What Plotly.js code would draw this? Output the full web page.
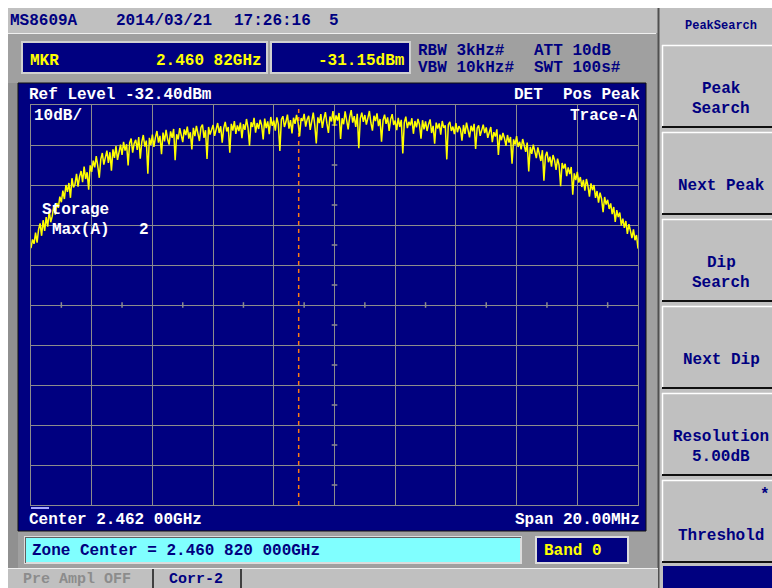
<!DOCTYPE html>
<html>
<head>
<meta charset="utf-8">
<script src="https://cdn.plot.ly/plotly-3.0.1.min.js"></script>
<style>html,body{margin:0;padding:0;background:#fff;}#chart{width:772px;height:588px;}</style>
</head>
<body>
<div id="chart"></div>
<script>
// ---- Instrument settings ----
const startFreqMHz = 2452.0;      // Center 2.462 00GHz, Span 20.00MHz
const stopFreqMHz = 2472.0;
const stepMHz = 0.05;             // sweep point spacing
const refLevel = -32.40;          // dBm, top of screen
const dbPerDiv = 10;
const markerFreqMHz = 2460.82;    // MKR 2.460 82GHz
const markerLevel = -31.15;       // dBm

// ---- Trace A (Max hold), dBm ----
const traceA = [
 -68.2,-66.0,-67.1,-64.3,-66.8,-63.5,-62.0,-65.1,-61.2,-63.9,
 -60.4,-62.8,-58.9,-61.7,-60.2,-57.6,-59.8,-56.9,-58.1,-55.3,
 -56.7,-53.8,-55.9,-52.4,-54.1,-51.9,-55.6,-50.7,-53.0,-52.2,
 -49.6,-52.8,-50.3,-48.9,-51.7,-47.8,-50.9,-49.2,-53.6,-47.5,
 -49.1,-46.3,-48.0,-45.2,-47.7,-50.6,-45.9,-44.4,-47.3,-45.0,
 -43.8,-46.9,-44.2,-48.8,-43.5,-45.6,-42.7,-46.1,-44.0,-42.3,
 -44.9,-41.6,-43.8,-42.2,-47.5,-41.9,-40.8,-44.3,-42.0,-41.1,
 -43.6,-40.4,-45.8,-41.7,-39.9,-42.8,-41.3,-49.6,-40.6,-42.4,
 -39.8,-42.9,-40.5,-38.9,-41.8,-40.1,-44.7,-39.3,-41.5,-38.6,
 -40.9,-42.3,-39.0,-40.6,-38.4,-46.2,-39.7,-41.0,-38.2,-40.3,
 -41.7,-38.5,-39.9,-37.8,-40.8,-39.2,-43.5,-38.1,-40.2,-37.6,
 -39.5,-41.4,-38.0,-37.3,-40.6,-38.7,-45.9,-37.9,-39.8,-38.3,
 -37.4,-40.1,-38.6,-36.9,-39.4,-37.7,-41.8,-38.2,-36.6,-39.0,
 -37.9,-44.3,-37.1,-38.8,-36.4,-39.6,-37.5,-38.9,-36.8,-40.7,
 -37.2,-38.6,-35.9,-38.1,-42.6,-36.7,-37.9,-35.6,-39.3,-36.9,
 -38.4,-36.1,-37.5,-41.0,-35.8,-38.2,-36.5,-39.7,-35.4,-37.6,
 -36.3,-38.8,-35.5,-37.2,-43.9,-36.0,-35.2,-37.9,-36.6,-34.8,
 -38.3,-36.2,-39.5,-35.6,-37.1,-34.9,-36.8,-40.2,-35.7,-36.4,
 -34.6,-37.8,-36.0,-35.1,-38.6,-36.7,-34.3,-37.4,-42.0,-35.5,
 -36.9,-34.7,-38.1,-35.9,-34.2,-37.0,-39.4,-35.3,-36.5,-33.9,
 -37.6,-35.0,-36.3,-34.4,-40.9,-35.7,-37.2,-34.0,-36.1,-38.5,
 -35.4,-33.7,-36.8,-35.2,-37.9,-34.6,-43.2,-35.8,-34.3,-36.6,
 -34.9,-37.3,-35.6,-33.9,-36.9,-38.8,-35.1,-36.4,-34.5,-37.7,
 -35.9,-41.6,-36.2,-34.8,-37.1,-35.5,-38.9,-36.0,-34.7,-37.4,
 -36.3,-38.7,-35.6,-37.9,-36.1,-44.5,-36.8,-35.3,-38.2,-36.6,
 -37.5,-35.7,-39.6,-36.4,-38.0,-35.9,-37.3,-40.8,-36.2,-38.5,
 -36.5,-38.9,-37.2,-36.0,-39.4,-37.6,-42.1,-36.8,-38.3,-37.0,
 -39.8,-36.4,-38.1,-37.5,-46.0,-37.3,-36.6,-38.9,-37.8,-39.7,
 -36.9,-39.2,-37.7,-38.4,-41.3,-37.4,-39.6,-36.8,-38.7,-40.5,
 -37.6,-39.0,-37.1,-43.4,-38.2,-37.5,-40.1,-38.8,-37.3,-39.4,
 -38.0,-40.6,-38.9,-37.9,-41.7,-39.2,-40.3,-38.5,-44.9,-39.8,
 -41.2,-39.4,-40.7,-42.6,-39.9,-41.8,-40.4,-47.1,-41.0,-42.3,
 -40.2,-42.9,-41.6,-43.5,-40.9,-42.4,-44.1,-41.8,-49.0,-42.9,
 -44.6,-42.3,-43.9,-45.7,-43.0,-44.8,-46.4,-43.7,-51.3,-45.2,
 -44.1,-46.7,-45.3,-47.8,-44.9,-46.2,-48.6,-45.8,-47.4,-52.7,
 -46.9,-48.3,-47.1,-50.2,-48.0,-49.7,-47.9,-54.8,-49.5,-51.2,
 -49.1,-51.8,-50.4,-52.9,-51.1,-53.8,-50.9,-52.6,-55.3,-52.0,
 -53.7,-52.4,-55.6,-53.9,-56.8,-54.3,-55.9,-59.2,-55.4,-57.3,
 -56.1,-58.4,-57.0,-59.7,-57.9,-61.6,-58.7,-60.4,-59.3,-62.5,
 -60.8,-63.1,-61.4,-64.6,-62.2,-63.8,-65.7,-63.5,-66.2,-64.9,
 -68.3
];

// ---- Screen texts ----
const headerTexts = ["MS8609A", "2014/03/21", "17:26:16", "5"];
const markerTexts = ["MKR", "2.460 82GHz", "-31.15dBm"];
const setupTexts = ["RBW 3kHz#", "VBW 10kHz#", "ATT 10dB", "SWT 100s#"];
const screenTexts = ["Ref Level -32.40dBm", "DET", "Pos Peak", "10dB/", "Trace-A",
                     "Storage", "Max(A)", "2", "Center 2.462 00GHz", "Span 20.00MHz"];
const zoneTexts = ["Zone Center = 2.460 820 000GHz", "Band 0"];
const tabTexts = ["Pre Ampl OFF", "Corr-2"];
const menuTitle = "PeakSearch";
const menuButtons = [["Peak", "Search"], ["Next Peak"], ["Dip", "Search"], ["Next Dip"],
                     ["Resolution", "5.00dB"], ["Threshold"]];

// ---- Layout geometry (pixels) ----
const W = 772, H = 588;
const PL = 31, PR = 638, PT = 105, PB = 505;
const X = px => (px - PL) / (PR - PL);
const Y = py => (PB - py) / (PB - PT);

const NAVY = '#000080', YEL = '#ffff00', WHITE = '#ffffff', GRID = '#8c8c8c';
const FAM = '"Liberation Mono", "DejaVu Sans Mono", monospace';

function rect(x0, y0, x1, y1, fill, lc, lw) {
  return {type: 'rect', xref: 'paper', yref: 'paper', x0: X(x0), x1: X(x1), y0: Y(y1), y1: Y(y0),
          fillcolor: fill, line: {color: lc || fill, width: lw || 0}, layer: 'below'};
}
function hline(x0, x1, y, c, w) {
  return {type: 'line', xref: 'paper', yref: 'paper', x0: X(x0), x1: X(x1), y0: Y(y), y1: Y(y),
          line: {color: c, width: w || 1}, layer: 'below'};
}
function vline(x, y0, y1, c, w) {
  return {type: 'line', xref: 'paper', yref: 'paper', x0: X(x), x1: X(x), y0: Y(y0), y1: Y(y1),
          line: {color: c, width: w || 1}, layer: 'below'};
}
function txt(t, px, py, anchor, color, size) {
  return {text: t, xref: 'paper', yref: 'paper', x: X(px), y: Y(py), xanchor: anchor, yanchor: 'middle',
          showarrow: false, borderpad: 0,
          font: {family: FAM, size: size || 16, color: color, weight: 'bold'}};
}

const shapes = [
  rect(8, 8, 658, 33, '#c0c0c0'),
  rect(658, 8, 772, 588, '#c0c0c0'),
  rect(8, 33, 658, 568, '#a0a0a0'),
  rect(8, 83, 18, 568, '#909090'),
  hline(8, 656, 33.5, '#f0f0f0', 1),
  vline(658.5, 8, 588, '#505050', 2),
  // marker readout boxes
  rect(22, 42, 267, 73, NAVY, '#d0d0d0', 2),
  rect(271, 42, 410, 73, NAVY, '#d0d0d0', 2),
  // main screen
  rect(18, 83, 646, 531, NAVY, '#101010', 1),
  // zone center / band
  rect(25, 537, 521, 563, '#80ffff', '#dcdcdc', 2),
  hline(25, 521, 537.5, '#606060', 1),
  vline(25.5, 537, 563, '#606060', 1),
  rect(536, 537, 628, 563, NAVY, '#dcdcdc', 2),
  // bottom tab row
  rect(8, 569, 658, 588, '#c0c0c0'),
  hline(8, 658, 568.5, '#f0f0f0', 1),
  vline(153, 569, 588, '#404040', 2),
  vline(241, 569, 588, '#404040', 2),
  // scroll indicator under grid
  rect(31, 507, 49, 509, '#a8a8ff'),
  // bottom navy block of menu
  rect(663, 566, 772, 588, NAVY)
];
[45, 132, 219, 306, 393, 480].forEach(t => {
  shapes.push(rect(662, t, 772, t + 82, '#c0c0c0'));
  shapes.push(hline(662, 772, t + 0.5, '#ffffff', 1.5));
  shapes.push(vline(662.5, t, t + 82, '#ffffff', 1.5));
  shapes.push(hline(662, 772, t + 82, '#101010', 2));
});
// marker line
shapes.push({type: 'line', xref: 'x', yref: 'paper', x0: markerFreqMHz, x1: markerFreqMHz, y0: 0, y1: 1,
             line: {color: '#ff7a10', width: 1.5, dash: '4px,4px'}, layer: 'below'});

const annotations = [
  txt(headerTexts[0], 9, 21, 'left', NAVY), txt(headerTexts[1], 115, 21, 'left', NAVY),
  txt(headerTexts[2], 233, 21, 'left', NAVY), txt(headerTexts[3], 328, 21, 'left', NAVY),
  txt(menuTitle, 721, 26, 'center', NAVY, 12),
  txt(markerTexts[0], 29, 61, 'left', YEL), txt(markerTexts[1], 263, 61, 'right', YEL),
  txt(markerTexts[2], 406, 61, 'right', YEL),
  txt(setupTexts[0], 417, 51, 'left', NAVY), txt(setupTexts[1], 417, 68, 'left', NAVY),
  txt(setupTexts[2], 533, 51, 'left', NAVY), txt(setupTexts[3], 533, 68, 'left', NAVY),
  txt(screenTexts[0], 28, 95, 'left', WHITE), txt(screenTexts[1], 513, 95, 'left', WHITE),
  txt(screenTexts[2], 641, 95, 'right', WHITE), txt(screenTexts[3], 33, 116, 'left', WHITE),
  txt(screenTexts[4], 639, 116, 'right', WHITE), txt(screenTexts[5], 41, 210, 'left', WHITE),
  txt(screenTexts[6], 51, 230, 'left', WHITE), txt(screenTexts[7], 138, 230, 'left', WHITE),
  txt(screenTexts[8], 28, 520, 'left', WHITE), txt(screenTexts[9], 641, 520, 'right', WHITE),
  txt(zoneTexts[0], 31, 551, 'left', NAVY), txt(zoneTexts[1], 543, 551, 'left', YEL),
  txt(tabTexts[0], 22, 579, 'left', '#8c8c8c', 15), txt(tabTexts[1], 168, 579, 'left', NAVY, 15)
];
const btnTop = [45, 132, 219, 306, 393, 480];
menuButtons.forEach((lines, i) => {
  const t = btnTop[i];
  if (lines.length === 2) {
    annotations.push(txt(lines[0], 721, t + 44, 'center', NAVY));
    annotations.push(txt(lines[1], 721, t + 64, 'center', NAVY));
  } else if (i === 5) {
    annotations.push(txt(lines[0], 721, t + 56, 'center', NAVY));
    annotations.push(txt('*', 765, t + 15, 'center', NAVY));
  } else {
    annotations.push(txt(lines[0], 721, t + 54, 'center', NAVY));
  }
});

// center crosshair fine ticks (half-division marks)
const nDiv = 10;
const xDiv = (stopFreqMHz - startFreqMHz) / nDiv;
const yBottom = refLevel - nDiv * dbPerDiv;
const yCenter = refLevel - nDiv / 2 * dbPerDiv;
const xCenter = (startFreqMHz + stopFreqMHz) / 2;
const hTickX = [], vTickY = [];
for (let i = 0; i < nDiv; i++) {
  hTickX.push(startFreqMHz + (i + 0.5) * xDiv);
  vTickY.push(refLevel - (i + 0.5) * dbPerDiv);
}

const data = [
  {type: 'scatter', mode: 'markers', x: hTickX, y: hTickX.map(() => yCenter),
   marker: {symbol: 'line-ns', size: 4, line: {color: GRID, width: 1.5}}, hoverinfo: 'skip'},
  {type: 'scatter', mode: 'markers', x: vTickY.map(() => xCenter), y: vTickY,
   marker: {symbol: 'line-ew', size: 4, line: {color: GRID, width: 1.5}}, hoverinfo: 'skip'},
  {type: 'scatter', mode: 'lines', x0: startFreqMHz, dx: stepMHz, y: traceA,
   line: {color: YEL, width: 1.5}, hoverinfo: 'skip'},
  {type: 'scatter', mode: 'markers', x: [markerFreqMHz], y: [markerLevel], cliponaxis: false,
   marker: {symbol: 'triangle-down', size: 9, color: WHITE}, hoverinfo: 'skip'}
];

const layout = {
  width: W, height: H, autosize: false,
  margin: {l: PL, r: W - PR, t: PT, b: H - PB, pad: 0},
  paper_bgcolor: '#ffffff', plot_bgcolor: 'rgba(0,0,0,0)',
  showlegend: false, hovermode: false,
  xaxis: {range: [startFreqMHz, stopFreqMHz], tick0: startFreqMHz, dtick: xDiv, showticklabels: false,
          ticks: '', showgrid: true, gridcolor: GRID, gridwidth: 1, zeroline: false,
          showline: true, mirror: true, linecolor: GRID, linewidth: 1, fixedrange: true},
  yaxis: {range: [yBottom, refLevel], tick0: refLevel, dtick: dbPerDiv, showticklabels: false,
          ticks: '', showgrid: true, gridcolor: GRID, gridwidth: 1, zeroline: false,
          showline: true, mirror: true, linecolor: GRID, linewidth: 1, fixedrange: true},
  shapes: shapes,
  annotations: annotations
};

Plotly.newPlot('chart', data, layout, {displayModeBar: false, staticPlot: true});
</script>
</body>
</html>
